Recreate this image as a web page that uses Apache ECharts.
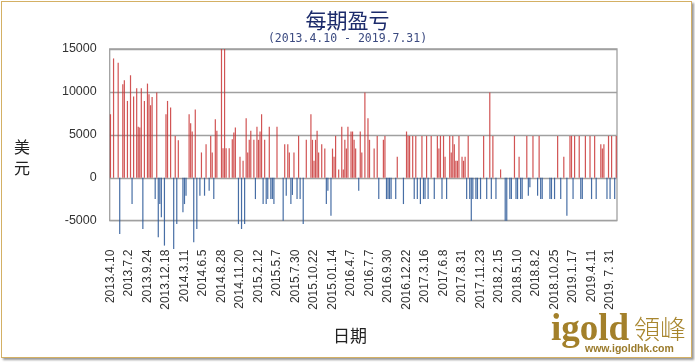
<!DOCTYPE html>
<html>
<head>
<meta charset="utf-8">
<script src="https://cdn.jsdelivr.net/npm/echarts@6/dist/echarts.min.js"></script>
<style>
html,body{margin:0;padding:0;background:#fff;}
#chart{position:absolute;left:0;top:0;width:695px;height:362px;}
#frame{position:absolute;left:1px;top:1px;width:689px;height:355px;border:1px solid #d4b064;box-shadow:2px 2px 2px #9a9a9a;pointer-events:none;}
</style>
</head>
<body>
<div id="chart"></div>
<div id="frame"></div>
<script>
// Tick labels (every 12th week)
const tickLabels = ['2013.4.10','2013.7.2','2013.9.24','2013.12.18','2014.3.11','2014.6.5','2014.8.28','2014.11.20','2015.2.12','2015.5.7','2015.7.30','2015.10.22','2015.01.14','2016.4.7','2016.7.7','2016.9.30','2016.12.22','2017.3.16','2017.6.8','2017.8.31','2017.11.23','2018.2.15','2018.5.10','2018.8.2','2018.10.25','2019.1.17','2019.4.11','2019. 7. 31'];
const weekCount = 329;
const categories = [];
for (let i = 0; i < weekCount; i++) categories.push('W' + (i + 1));

// [week index, profit/loss in USD]
const periodPL = [
[0,7400],[2,13900],[5,13400],[6,-6550],[8,10900],[9,11360],[11,8950],[13,11940],[14,-3060],[15,9460],[17,10430],[18,5930],[19,5850],[20,10430],[21,-5970],[22,8950],[24,10970],[25,9730],[26,8450],[27,9420],[29,-2480],[30,9920],[31,-6940],[32,-3060],[33,-4610],[35,-7900],[36,7400],[37,8950],[39,8180],[41,-8300],[42,4880],[43,-5390],[44,4380],[47,-4030],[48,-3060],[49,-2090],[51,7400],[52,6360],[53,5390],[54,-7520],[55,7950],[56,-5970],[58,-2090],[59,2950],[61,-2090],[62,3910],[64,-1510],[65,4880],[66,2950],[67,-2480],[68,6820],[69,5470],[72,15000],[73,3450],[74,15000],[75,3450],[77,3450],[79,4500],[80,5270],[81,5850],
[83,-5390],[84,2440],[85,-5970],[86,1980],[87,-5390],[88,6940],[89,2950],[90,4420],[91,5470],[93,4420],[94,-2480],[95,5930],[96,4420],[97,5390],[98,7400],[99,-3060],[100,4420],[101,-3060],[102,-2480],[103,5930],[104,-2480],[105,-2480],[106,-3060],[108,5930],[112,-5000],[113,3910],[114,-2090],[115,3910],[116,2950],[117,-3060],[118,-2000],[119,2950],[121,-2480],[122,4880],[123,-2480],[125,-5390],[127,4420],[130,7400],[131,4420],[132,1980],[133,4420],[134,5470],[135,2950],[137,3910],[139,3400],[140,-3060],[141,-1510],[143,-4420],[144,3400],[145,2440],[146,4880],[148,970],[150,5930],[151,970],[152,4420],[153,3400],[154,5930],[156,5390],[157,5390],[158,4420],[159,3400],[161,-1510],[162,5390],[163,2950],[165,9920],
[167,6940],[168,4420],[171,3400],[173,4880],[174,-2480],[177,4420],[178,4880],[179,-2480],[180,-2480],[181,-2480],[182,-2480],[185,-2480],[186,2440],[190,-3060],[192,5390],[193,4880],[194,4880],[196,4880],[197,-2480],[198,4880],[199,-2480],[201,-3060],[202,4880],[203,-2480],[204,-2480],[205,4880],[206,-2480],[208,4880],[210,-2480],[212,4880],[213,3400],[214,4880],[215,-2480],[216,4880],[217,2440],[218,-2480],[220,4880],[221,2950],[222,4880],[223,3910],[224,1980],[225,1980],[226,4880],[228,2440],[229,1980],[230,2440],[231,-2480],[232,4880],[233,-2480],[234,-5000],[235,-2480],[237,-2480],[238,-2480],[240,-2480],[242,4880],[244,-2480],[246,9920],
[247,-2480],[248,4880],[250,-2480],[253,970],[256,-5000],[257,-5000],[259,-2480],[260,-2480],[262,4880],[263,-2480],[264,-2480],[265,2440],[266,-2480],[267,-2480],[270,4880],[271,-2090],[272,-1100],[274,4880],[277,-2090],[278,4880],[279,-2480],[280,-2480],[285,-2480],[286,-2480],[288,-2480],[290,4880],[292,-2480],[294,2440],[296,-4420],[298,4880],[299,4880],[300,-2480],[301,4880],[304,4880],[305,-2480],[306,-2480],[308,4880],[311,4880],[312,-2480],[314,4880],[315,-2480],[318,3910],[319,3400],[320,3910],[322,-2480],[323,4880],[324,-2480],[325,4880],[327,-2480],[328,4880]
];

const yTicks = [-5000, 0, 5000, 10000, 15000];

const RED = '#c93636', BLUE = '#275595';
const seriesData = categories.map(() => null);
periodPL.forEach(([i, v]) => {
  seriesData[i] = { value: v, itemStyle: { color: v >= 0 ? RED : BLUE } };
});

const chart = echarts.init(document.getElementById('chart'), null, { renderer: 'canvas' });
chart.setOption({
  animation: false,
  backgroundColor: '#fff',
  title: {
    text: '每期盈亏',
    subtext: '(2013.4.10 - 2019.7.31)',
    left: 'center',
    top: 5,
    itemGap: 2,
    textStyle: { fontFamily: 'Noto Sans CJK SC', fontSize: 21, fontWeight: 'normal', color: '#1c2b6b' },
    subtextStyle: { fontFamily: 'DejaVu Sans Mono', fontSize: 11.5, color: '#3b4a80' }
  },
  grid: {
    left: 109.7, right: 78, top: 49, bottom: 141.3,
    show: true, borderColor: '#a0a0a0', borderWidth: 1.3, backgroundColor: 'transparent'
  },
  xAxis: {
    type: 'category',
    data: categories,
    boundaryGap: true,
    axisLine: { show: false, onZero: false },
    axisTick: { show: false },
    axisLabel: {
      interval: 11,
      rotate: 90,
      margin: 29,
      fontFamily: 'Liberation Sans',
      fontSize: 12,
      color: '#333',
      formatter: (val, idx) => tickLabels[Math.round(idx / 12)] || ''
    },
    splitLine: { show: false }
  },
  yAxis: {
    type: 'value',
    min: yTicks[0], max: yTicks[yTicks.length - 1], interval: 5000,
    axisLine: { show: false },
    axisTick: { show: false },
    axisLabel: { margin: 13, fontFamily: 'Liberation Sans', fontSize: 12.5, color: '#333', formatter: v => String(v) },
    splitLine: { lineStyle: { color: '#a0a0a0', width: 1.3 } }
  },
  series: [{
    type: 'bar',
    data: seriesData,
    barWidth: 1.2,
    clip: false,
    silent: true,
    itemStyle: { opacity: 0.85 }
  }],
  graphic: [
    { type: 'text', left: 14, top: 136, style: { text: '美\n元', fontFamily: 'Noto Sans CJK SC', fontSize: 16, lineHeight: 21, fill: '#222' } },
    { type: 'text', left: 333, top: 327, style: { text: '日期', fontFamily: 'Noto Sans CJK SC', fontSize: 17, fill: '#222' } },
    { type: 'text', left: 551, top: 312, style: { text: 'igold', fontFamily: 'Liberation Serif', fontWeight: 'bold', fontSize: 37, fill: '#a3802a' } },
    { type: 'text', left: 634, top: 316, style: { text: '領峰', fontFamily: 'Noto Sans CJK TC', fontWeight: 300, fontSize: 26, fill: '#a8862f' } },
    { type: 'text', left: 585, top: 344, style: { text: 'www.igoldhk.com', fontFamily: 'Liberation Sans', fontWeight: 'bold', fontSize: 10.5, fill: '#9a7a2a' } }
  ]
});
</script>
</body>
</html>
